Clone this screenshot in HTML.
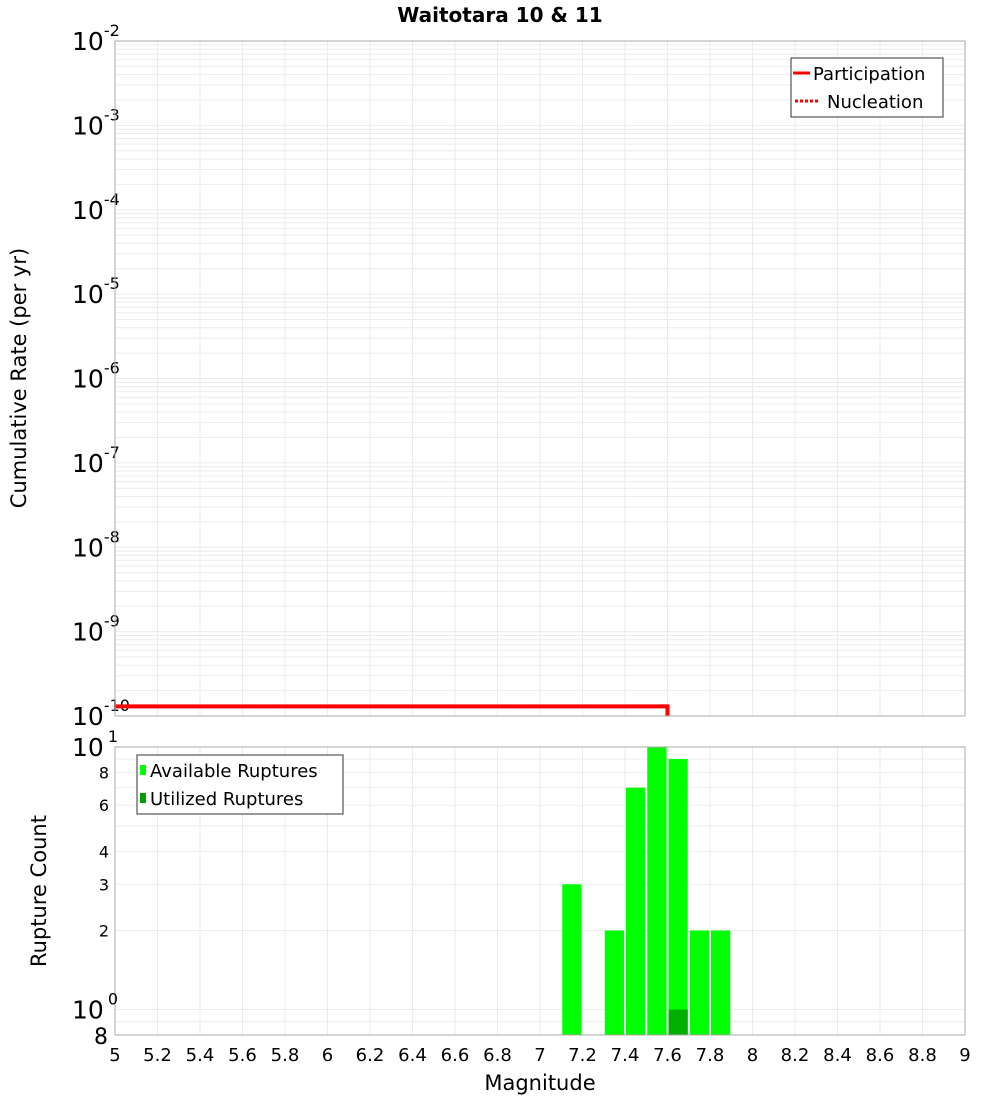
<!DOCTYPE html>
<html><head><meta charset="utf-8"><style>
body{margin:0;background:#fff;width:1000px;height:1100px;overflow:hidden}
svg{font-family:"DejaVu Sans","Liberation Sans",sans-serif}
</style></head><body>
<svg id="chart" width="1000" height="1100" xmlns="http://www.w3.org/2000/svg">
<text x="500" y="22" text-anchor="middle" font-size="20" font-weight="bold">Waitotara 10 &amp; 11</text>
<text transform="translate(26,378) rotate(-90)" text-anchor="middle" font-size="21">Cumulative Rate (per yr)</text>
<text transform="translate(46,891) rotate(-90)" text-anchor="middle" font-size="21">Rupture Count</text>
<text x="540" y="1090" text-anchor="middle" font-size="21">Magnitude</text>
<g id="g"></g>
</svg>
<script>
const xTicks=[5,5.2,5.4,5.6,5.8,6,6.2,6.4,6.6,6.8,7,7.2,7.4,7.6,7.8,8,8.2,8.4,8.6,8.8,9];
const topDecades=[-2,-3,-4,-5,-6,-7,-8,-9,-10];
const partX=[5,7.6,7.6];
const partY=[1.3e-10,1.3e-10,1e-10];
const barMags=[7.15,7.35,7.45,7.55,7.65,7.75,7.85];
const availCounts=[3,2,7,10,9,2,2];
const utilMags=[7.65];
const utilCounts=[1];
const botTicks=[2,3,4,6,8];

const NS='http://www.w3.org/2000/svg';
const g=document.getElementById('g');
const X0=115,X1=965;
const xs=m=>X0+(m-5)/4*(X1-X0);
const T0=41,T1=716;
const ys=v=>T0+(-2-Math.log10(v))/8*(T1-T0);
const B0=747,B1=1035,BL=Math.log10(0.8);
const yb=v=>B0+(1-Math.log10(v))/(1-BL)*(B1-B0);
function mk(t,a,txt){const e=document.createElementNS(NS,t);for(const k in a)e.setAttribute(k,a[k]);if(txt!==undefined)e.textContent=txt;g.appendChild(e);return e;}

for(let d=-10;d<-2;d++)for(let k=1;k<10;k++){const y=ys(k*Math.pow(10,d));
 const l=mk('line',{x1:X0,x2:X1,y1:y,y2:y,stroke:'#ebebeb','stroke-width':1});
 
 }
for(const m of xTicks){
 const l=mk('line',{x1:xs(m),x2:xs(m),y1:T0,y2:T1,stroke:'#ebebeb'});
 
 
 const l2=mk('line',{x1:xs(m),x2:xs(m),y1:B0,y2:B1,stroke:'#ebebeb'});
 
 }
for(let v=1;v<=10;v++){const y=yb(v);
 const l=mk('line',{x1:X0,x2:X1,y1:y,y2:y,stroke:'#ebebeb'});
 
 }
{const y=yb(0.9);const l=mk('line',{x1:X0,x2:X1,y1:y,y2:y,stroke:'#ebebeb'});
 
 }

for(const d of topDecades){const y=ys(Math.pow(10,d));
 const t=mk('text',{x:72,y:y+9,'font-size':25});
 
 
 t.innerHTML='10<tspan dy="-14" font-size="16">'+d+'</tspan>';}

{let p='';for(let i=0;i<partX.length;i++)p+=(i?'L':'M')+xs(partX[i])+','+ys(partY[i]);
 const l=mk('path',{d:p.replace(/,([\d.]+)$/,','+T1),fill:'none',stroke:'#ff0000','stroke-width':4});
 
 }

const bw=0.1*(X1-X0)/4-2;
for(let i=0;i<barMags.length;i++){const x=xs(barMags[i])-bw/2,y=yb(availCounts[i]);
 const r=mk('rect',{x:x,y:y,width:bw,height:B1-y,fill:'#00ff00'});
 
 }
for(let i=0;i<utilMags.length;i++){const x=xs(utilMags[i])-bw/2,y=yb(utilCounts[i]);
 const r=mk('rect',{x:x,y:y,width:bw,height:B1-y,fill:'#00b000'});
 
 }

{const a=mk('rect',{x:X0,y:T0,width:X1-X0,height:T1-T0,fill:'none',stroke:'#aaa'});
 
 
 const b=mk('rect',{x:X0,y:B0,width:X1-X0,height:B1-B0,fill:'none',stroke:'#aaa'});
 
 }

{const t=mk('text',{x:72,y:yb(10)+9,'font-size':25});
 
 
 t.innerHTML='10<tspan dx="4" dy="-14" font-size="16">1</tspan>';
 const t2=mk('text',{x:72,y:yb(1)+9,'font-size':25});
 
 
 t2.innerHTML='10<tspan dx="4" dy="-14" font-size="16">0</tspan>';
 const t3=mk('text',{x:108,y:B1+9,'font-size':22,'text-anchor':'end'},'8');
 
 }
for(const v of botTicks){const t=mk('text',{x:109,y:yb(v)+6,'font-size':16,'text-anchor':'end'},String(v));
 
 }

for(const m of xTicks){const t=mk('text',{x:xs(m),y:1061,'font-size':18,'text-anchor':'middle'},String(m));
 
 }

{const r=mk('rect',{x:791,y:58,width:152,height:59,fill:'#fff',stroke:'#333'});
 
 
 const l1=mk('line',{x1:793,x2:810,y1:73,y2:73,stroke:'#f00','stroke-width':3});
 
 
 const t1=mk('text',{x:813,y:80,'font-size':18},'Participation');
 
 
 const l2=mk('line',{x1:795,x2:820,y1:101,y2:101,stroke:'#f00','stroke-width':3,'stroke-dasharray':'3,2'});
 
 
 const t2=mk('text',{x:827,y:108,'font-size':18},'Nucleation');
 
 }
{const r=mk('rect',{x:137,y:755,width:206,height:59,fill:'#fff',stroke:'#333'});
 
 
 const s1=mk('rect',{x:140,y:765,width:6,height:10,fill:'#00ff00'});
 
 
 const t1=mk('text',{x:150,y:777,'font-size':18},'Available Ruptures');
 
 
 const s2=mk('rect',{x:140,y:793,width:6,height:10,fill:'#00a000'});
 
 
 const t2=mk('text',{x:150,y:805,'font-size':18},'Utilized Ruptures');
 
 }
</script>
</body></html>
